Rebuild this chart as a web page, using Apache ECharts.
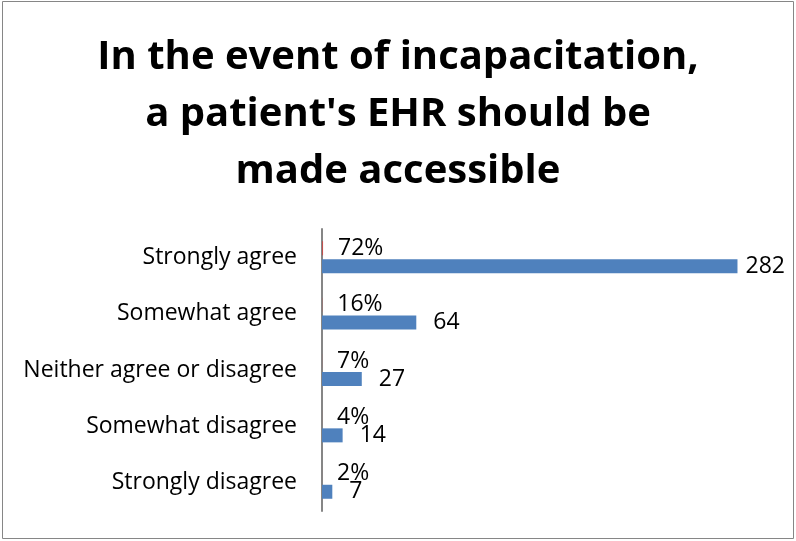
<!DOCTYPE html>
<html>
<head>
<meta charset="utf-8">
<script src="https://cdn.jsdelivr.net/npm/echarts@6/dist/echarts.min.js"></script>
<style>
  html, body { margin: 0; padding: 0; background: #fff; }
  #chart { width: 796px; height: 541px; }
</style>
</head>
<body>
<div id="chart"></div>
<script>
const FONT_FAMILY = "'Open Sans', sans-serif"

const categories = [
  'Strongly agree',
  'Somewhat agree',
  'Neither agree or disagree',
  'Somewhat disagree',
  'Strongly disagree',
]
const percents = [72, 16, 7, 4, 2]
const counts = [282, 64, 27, 14, 7]

const COLORS = {
  count: '#4F81BD',
  percent: '#C0504D',
  axis: '#868686',
  text: '#000000',
}

const chart = echarts.init(document.getElementById('chart'))

chart.setOption({
  animation: false,
  title: {
    text: "In the event of incapacitation,\na patient's EHR should be\nmade accessible",
    left: 'center',
    top: 24,
    textStyle: {
      fontFamily: FONT_FAMILY, fontSize: 40, fontWeight: 'bold',
      color: COLORS.text, lineHeight: 57,
    },
  },
  graphic: [{
    type: 'rect',
    shape: { x: 2.5, y: 1.5, width: 791, height: 537 },
    style: { fill: 'none', stroke: COLORS.axis, lineWidth: 1 },
    silent: true,
  }],
  grid: { left: 322, right: 32, top: 229, bottom: 30 },
  xAxis: {
    type: 'value',
    min: 0,
    max: 300,
    show: false,
  },
  yAxis: {
    type: 'category',
    data: categories,
    inverse: true,
    axisTick: { show: false },
    axisLine: { lineStyle: { color: COLORS.axis, width: 2 } },
    axisLabel: {
      fontFamily: FONT_FAMILY, fontSize: 23, color: COLORS.text, margin: 25,
    },
  },
  series: [
    {
      name: 'Percent',
      type: 'bar',
      data: percents.map(p => p / 100),
      barWidth: 14,
      barGap: '28%',
      itemStyle: { color: COLORS.percent },
      label: {
        show: true,
        position: 'right',
        distance: 15,
        fontFamily: FONT_FAMILY, fontSize: 23, color: COLORS.text,
        formatter: p => percents[p.dataIndex] + '%',
      },
    },
    {
      name: 'Count',
      type: 'bar',
      data: counts.map((v, i) => i === 0
        ? { value: v, label: { distance: 8 } }
        : v),
      barWidth: 14,
      itemStyle: { color: COLORS.count },
      label: {
        show: true,
        position: 'right',
        distance: 17,
        fontFamily: FONT_FAMILY, fontSize: 23, color: COLORS.text,
      },
    },
  ],
})
</script>
</body>
</html>
